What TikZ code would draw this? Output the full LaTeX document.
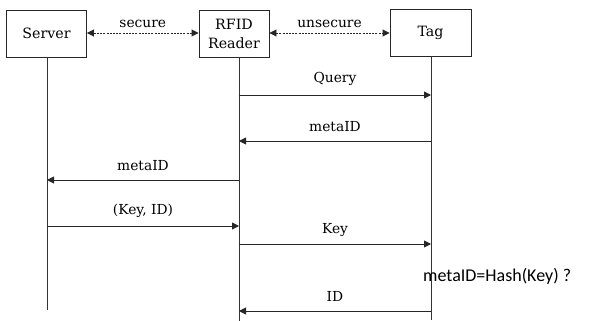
\documentclass[tikz,border=0pt]{standalone}
\usepackage{fontspec}
\setmainfont{DejaVu Serif}
\newfontfamily\notefont{Carlito}
\usetikzlibrary{arrows.meta}
\begin{document}
\begin{tikzpicture}[x=1pt,y=-1pt,
  entity/.style={draw=black!85, line width=0.9pt, minimum width=80pt, minimum height=47pt,
    align=center, font=\fontsize{14.2}{16}\selectfont, inner sep=0pt},
  life/.style={draw=black!80, line width=0.9pt},
  msg/.style={draw=black!85, line width=0.9pt, -{Triangle[length=7pt,width=7pt]}},
  link/.style={draw=black!85, line width=0.9pt, dash pattern=on 2pt off 1.2pt,
    {Triangle[length=7pt,width=7pt]}-{Triangle[length=7pt,width=7pt]}},
  lbl/.style={font=\fontsize{13.8}{15}\selectfont, inner sep=0pt}]
\useasboundingbox (0,0) rectangle (590,321);
\fill[white] (0,0) rectangle (590,321);

% participants
\node[entity] (server) at (46.5,33.5) {Server};
\node[entity, minimum width=70pt] (reader) at (234,33.5) {RFID\\[3pt]Reader};
\node[entity, minimum width=81pt] (tag) at (430.5,33) {Tag};

% lifelines
\coordinate (sEnd) at (47,310);
\coordinate (rEnd) at (239,321);
\coordinate (tEnd) at (431,320);
\draw[life] (server.south -| sEnd) -- (sEnd);
\draw[life] (reader.south -| rEnd) -- (rEnd);
\draw[life] (tag.south -| tEnd) -- (tEnd);

% channels
\draw[link] (server.east |- 0,33) -- node[lbl, above=5pt] {secure} (reader.west |- 0,33);
\draw[link] (reader.east |- 0,33) -- node[lbl, above=5pt] {unsecure} (tag.west |- 0,33);

% message points on the lifelines
\coordinate (s1) at (47,180);  \coordinate (s2) at (47,226);
\coordinate (r1) at (239,95);  \coordinate (r2) at (239,141);
\coordinate (r3) at (239,180); \coordinate (r4) at (239,226);
\coordinate (r5) at (239,244); \coordinate (r6) at (239,311);
\coordinate (t1) at (431,95);  \coordinate (t2) at (431,141);
\coordinate (t5) at (431,244); \coordinate (t6) at (431,311);

% messages
\draw[msg] (r1) -- node[lbl, above=9pt] {Query} (t1);
\draw[msg] (t2) -- node[lbl, above=9pt] {metaID} (r2);
\draw[msg] (r3) -- node[lbl, above=9pt] {metaID} (s1);
\draw[msg] (s2) -- node[lbl, above=8pt] {(Key, ID)} (r4);
\draw[msg] (r5) -- node[lbl, above=7pt] {Key} (t5);
\draw[msg] (t6) -- node[lbl, above=9pt] {ID} (r6);

% check performed by the server
\node[font=\notefont\fontsize{18}{20}\selectfont, anchor=west, inner sep=0pt] (check) at (423,276) {metaID=Hash(Key) ?};
\end{tikzpicture}
\end{document}
